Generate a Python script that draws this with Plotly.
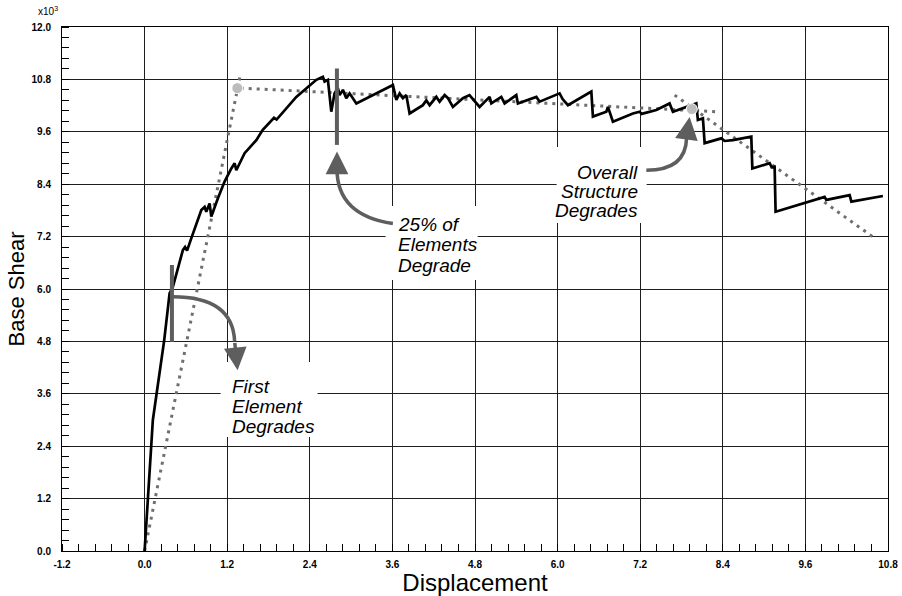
import plotly.graph_objects as go

# ---------------- data ----------------
DISP = [0, 0.048, 0.12, 0.285, 0.363, 0.411, 0.508, 0.556, 0.588, 0.617, 0.678,
        0.824, 0.872, 0.896, 0.944, 0.969, 1.065, 1.162, 1.26, 1.308, 1.332, 1.453, 1.623,
        1.714, 1.88, 1.918, 2.204, 2.495, 2.59, 2.615, 2.663, 2.712, 2.76, 2.808, 2.833,
        2.881, 2.93, 2.978, 3.076, 3.607, 3.657, 3.705, 3.753, 3.802, 3.85, 4.043, 4.093,
        4.141, 4.238, 4.286, 4.359, 4.407, 4.479, 4.624, 4.72, 4.867, 5.012, 5.037, 5.182,
        5.23, 5.40, 5.423, 5.691, 5.739, 6.029, 6.073, 6.15, 6.49, 6.513, 6.708, 6.731,
        6.804, 7.094, 7.192, 7.22, 7.434, 7.627, 7.675, 8.015, 8.038, 8.111, 8.136, 8.379,
        8.427, 8.547, 8.814, 8.829, 9.08, 9.11, 9.153, 9.167, 9.879, 9.904, 10.243, 10.268,
        10.726]
SHEAR = [0, 1.17, 3.00, 4.83, 5.90, 6.05, 6.59, 6.89, 6.96, 6.88, 7.16,
         7.81, 7.88, 7.77, 7.96, 7.66, 8.08, 8.46, 8.76, 8.88, 8.72, 9.11, 9.41,
         9.64, 9.92, 9.88, 10.40, 10.79, 10.86, 10.75, 10.79, 10.06, 10.48, 10.60, 10.44,
         10.56, 10.37, 10.48, 10.25, 10.67, 10.33, 10.48, 10.37, 10.44, 10.02, 10.21, 10.32,
         10.21, 10.40, 10.29, 10.44, 10.37, 10.17, 10.37, 10.44, 10.17, 10.40, 10.25, 10.40,
         10.25, 10.44, 10.25, 10.40, 10.29, 10.48, 10.35, 10.21, 10.52, 9.95, 10.06, 10.17,
         9.83, 10.02, 10.06, 10.01, 10.10, 10.25, 10.06, 10.25, 9.87, 9.91, 9.34, 9.45,
         9.39, 9.41, 9.49, 8.76, 8.88, 8.79, 8.80, 7.77, 8.11, 8.04, 8.15, 8.00,
         8.13]

# idealised (dotted) approximations
BILIN_X = [0.0, 1.39]
BILIN_Y = [0.0, 10.90]
PLATEAU_X = [1.28, 8.31]
PLATEAU_Y = [10.61, 10.06]
DEGRADE_X = [7.70, 10.61]
DEGRADE_Y = [10.44, 7.16]

# key points (grey dots)
KEY_X = [1.347, 7.95]
KEY_Y = [10.60, 10.12]

# event markers (vertical bars)
BAR_X = [0.397, 2.794]
BAR_LOW = [4.79, 9.30]
BAR_HIGH = [6.55, 11.05]

X_TICKS = [-1.2, 0.0, 1.2, 2.4, 3.6, 4.8, 6.0, 7.2, 8.4, 9.6, 10.8]
X_LABELS = ["-1.2", "0.0", "1.2", "2.4", "3.6", "4.8", "6.0", "7.2", "8.4", "9.6", "10.8"]
Y_TICKS = [0.0, 1.2, 2.4, 3.6, 4.8, 6.0, 7.2, 8.4, 9.6, 10.8, 12.0]
Y_LABELS = ["0.0", "1.2", "2.4", "3.6", "4.8", "6.0", "7.2", "8.4", "9.6", "10.8", "12.0"]

# annotation texts (lines) and their anchor positions (data units)
NOTE1_LINES = ["First", "Element", "Degrades"]
NOTE1_X = 1.235
NOTE1_Y = [3.778, 3.320, 2.862]
NOTE2_LINES = ["25% of", "Elements", "Degrade"]
NOTE2_X = 3.647
NOTE2_Y = [7.488, 7.019, 6.549]
NOTE3_LINES = ["Overall", "Structure", "Degrades"]
NOTE3_X = 7.20
NOTE3_Y = [8.679, 8.244, 7.809]

# white boxes behind notes: (x0, x1, y0, y1)
BOXES = [(1.104, 2.513, 2.610, 4.328),
         (3.501, 4.838, 6.206, 7.900),
         (5.986, 7.293, 7.511, 9.251)]

# curved arrows: start, control, end, tip
ARROWS = [((0.411, 5.82), (1.279, 5.82), (1.308, 4.80), (1.351, 4.14)),
          ((3.607, 7.50), (2.795, 7.69), (2.795, 8.75), (2.795, 9.15)),
          ((7.289, 8.72), (7.86, 8.72), (7.874, 9.45), (7.918, 9.94))]

GREY = "#5e5e5e"
DOTC = "#6f6f6f"
FONT = "Liberation Sans"

fig = go.Figure()

fig.add_trace(go.Scatter(x=BILIN_X, y=BILIN_Y, mode="lines",
                         line=dict(color=DOTC, width=3, dash="3px,5px"), hoverinfo="skip"))
fig.add_trace(go.Scatter(x=PLATEAU_X, y=PLATEAU_Y, mode="lines",
                         line=dict(color=DOTC, width=3, dash="3px,5px"), hoverinfo="skip"))
fig.add_trace(go.Scatter(x=DEGRADE_X, y=DEGRADE_Y, mode="lines",
                         line=dict(color=DOTC, width=3, dash="3px,5px"), hoverinfo="skip"))
fig.add_trace(go.Scatter(x=DISP, y=SHEAR, mode="lines",
                         line=dict(color="black", width=2.7), hoverinfo="skip"))
fig.add_trace(go.Scatter(x=KEY_X, y=KEY_Y, mode="markers",
                         marker=dict(color="#bcbcbc", size=11, line=dict(color="white", width=1)),
                         hoverinfo="skip"))

shapes = []
for (x0, x1, y0, y1) in BOXES:
    shapes.append(dict(type="rect", xref="x", yref="y", x0=x0, x1=x1, y0=y0, y1=y1,
                       fillcolor="white", line=dict(width=0), layer="between"))
for bx, lo, hi in zip(BAR_X, BAR_LOW, BAR_HIGH):
    shapes.append(dict(type="line", xref="x", yref="y", x0=bx, x1=bx, y0=lo, y1=hi,
                       line=dict(color=GREY, width=4), layer="above"))
for (s, c, e, t) in ARROWS:
    shapes.append(dict(type="path", xref="x", yref="y",
                       path=f"M {s[0]},{s[1]} Q {c[0]},{c[1]} {e[0]},{e[1]}",
                       line=dict(color=GREY, width=3.5), layer="above"))

annotations = []
for (s, c, e, t) in ARROWS:
    annotations.append(dict(x=t[0], y=t[1], ax=e[0], ay=e[1], xref="x", yref="y",
                            axref="x", ayref="y", text="", showarrow=True,
                            arrowhead=2, arrowsize=1.3, arrowwidth=3.5, arrowcolor=GREY,
                            standoff=0, startstandoff=0))

note_font = dict(family=FONT, size=19, color="black", style="italic")
for line, y in zip(NOTE1_LINES, NOTE1_Y):
    annotations.append(dict(x=NOTE1_X, y=y, xref="x", yref="y", text=line, showarrow=False,
                            xanchor="left", yanchor="middle", font=note_font))
for line, y in zip(NOTE2_LINES, NOTE2_Y):
    annotations.append(dict(x=NOTE2_X, y=y, xref="x", yref="y", text=line, showarrow=False,
                            xanchor="left", yanchor="middle", font=note_font))
for line, y in zip(NOTE3_LINES, NOTE3_Y):
    annotations.append(dict(x=NOTE3_X, y=y, xref="x", yref="y", text=line, showarrow=False,
                            xanchor="right", yanchor="middle", font=note_font))

annotations.append(dict(x=-0.031, y=1.016, xref="paper", yref="paper",
                        text="x10<sup>3</sup>", showarrow=False, xanchor="left", yanchor="bottom",
                        font=dict(family=FONT, size=10, color="black")))

axis_common = dict(
    showline=True, linecolor="black", linewidth=1, mirror=True,
    showgrid=True, gridcolor="#1e1e1e", gridwidth=1,
    zeroline=False, ticks="", tickmode="array", automargin=False,
    tickfont=dict(family=FONT, size=10, color="black", weight="bold"),
    minor=dict(tickmode="linear", tick0=0, dtick=0.24, ticks="inside", ticklen=7,
               tickwidth=1, tickcolor="black", showgrid=False),
)

fig.update_layout(
    width=902, height=596, autosize=False,
    margin=dict(l=62, r=14, t=27, b=45),
    paper_bgcolor="white", plot_bgcolor="white",
    showlegend=False,
    xaxis=dict(range=[-1.2, 10.8], tickvals=X_TICKS, ticktext=X_LABELS,
               title=dict(text="Displacement", standoff=0,
                          font=dict(family=FONT, size=24, color="black")),
               ticklabelstandoff=4, **axis_common),
    yaxis=dict(range=[0, 12], tickvals=Y_TICKS, ticktext=Y_LABELS,
               title=dict(text="Base Shear", standoff=0,
                          font=dict(family=FONT, size=22, color="black")),
               ticklabelstandoff=8, **axis_common),
    shapes=shapes,
    annotations=annotations,
)

fig.write_html("out.html", config={"displayModeBar": False})
